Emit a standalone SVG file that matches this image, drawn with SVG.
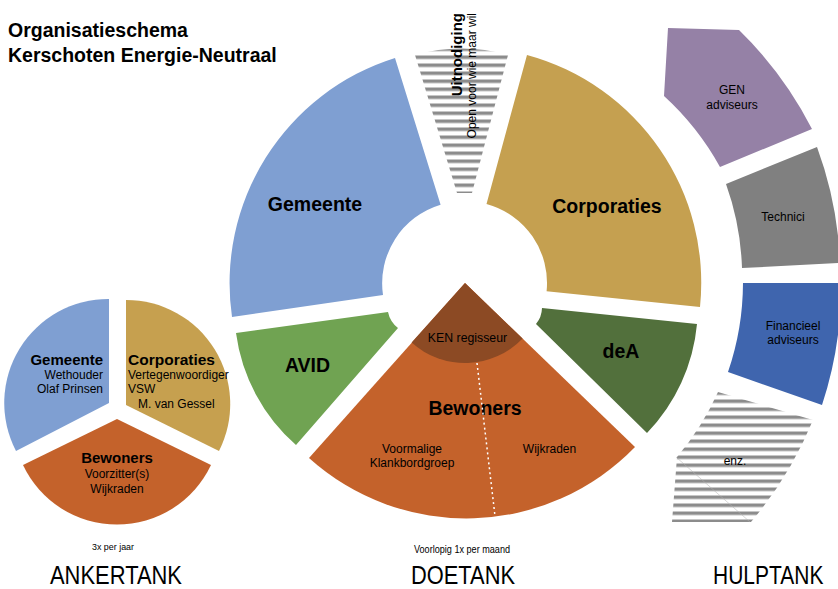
<svg xmlns="http://www.w3.org/2000/svg" width="838" height="589" viewBox="0 0 838 589">
<defs>
<style>
text{font-family:"Liberation Sans",Arial,Helvetica,sans-serif;fill:#000}
.b{font-weight:bold}
.big{font-size:19.5px;font-weight:bold;text-anchor:middle}
.s12{font-size:12px}
.m{text-anchor:middle}
.e{text-anchor:end}
.cond{font-size:25px}
</style>
<pattern id="stripes" patternUnits="userSpaceOnUse" x="0" y="-0.5" width="8" height="8">
<rect x="0" y="0" width="8" height="3.5" fill="#8c8c8c"/>
</pattern>
</defs>
<rect width="838" height="589" fill="#fff"/>

<g id="title">
<text x="8" y="37" class="b" font-size="19.5">Organisatieschema</text>
<text x="8" y="62" class="b" font-size="19.5">Kerschoten Energie-Neutraal</text>
</g>

<!-- ANKERTANK -->
<g id="anker-gemeente">
<path d="M109,403 L109,299 A104,104 0 0 0 16,451 Z" fill="#7F9FD2"/>
<text x="103" y="365" class="b e" font-size="15">Gemeente</text>
<text x="103" y="379" class="s12 e">Wethouder</text>
<text x="103" y="393" class="s12 e">Olaf Prinsen</text>
</g>
<g id="anker-corporaties">
<path d="M126,405 L126,300 A104,104 0 0 1 219,451 Z" fill="#C6A04F"/>
<text x="128" y="365" class="b" font-size="15.5">Corporaties</text>
<text x="128" y="379" class="s12">Vertegenwoordiger</text>
<text x="128" y="393" class="s12">VSW</text>
<text x="138" y="408" class="s12">M. van Gessel</text>
</g>
<g id="anker-bewoners">
<path d="M117,419 L211,465 A104,104 0 0 1 23,465 Z" fill="#C4622B"/>
<text x="117" y="463" class="b m" font-size="15">Bewoners</text>
<text x="117" y="478" class="s12 m">Voorzitter(s)</text>
<text x="117" y="493" class="s12 m">Wijkraden</text>
</g>

<!-- DOETANK -->
<g id="gemeente">
<path d="M232,317 A236,236 0 0 1 395,58 L440.6,204.7 A82,82 0 0 0 383,295 Z" fill="#7F9FD2"/>
<text x="315" y="211" class="big">Gemeente</text>
</g>
<g id="uitnodiging">
<path d="M457,193 L415,55 A174,174 0 0 1 508,55 L472,193 Z" fill="url(#stripes)"/>
<text transform="translate(462,13) rotate(-90)" class="b e" font-size="15">Uitnodiging</text>
<text transform="translate(476,13) rotate(-90)" class="e" font-size="12">Open voor wie maar wil</text>
</g>
<g id="corporaties">
<path d="M527,55 A236,236 0 0 1 700,307 L546.6,291.3 A82,82 0 0 0 486.5,203.9 Z" fill="#C5A050"/>
<text x="607" y="213" class="big">Corporaties</text>
</g>
<g id="avid">
<path d="M236,333 L388,312 A27,27 0 0 0 398,328 L296,445 A181,181 0 0 1 236,333 Z" fill="#70A352"/>
<text x="307.5" y="372" class="big">AVID</text>
</g>
<g id="dea">
<path d="M542,308 L697,324 A181,181 0 0 1 647,433 L536,324 A26,26 0 0 0 542,308 Z" fill="#52703C"/>
<text x="621" y="358" class="big">deA</text>
</g>
<g id="bewoners">
<path d="M465,283 L635,447 A235,235 0 0 1 309,458 Z" fill="#C4622B"/>
<text x="475" y="415" class="big">Bewoners</text>
<text x="412" y="453" class="s12 m">Voormalige</text>
<text x="412" y="467" class="s12 m">Klankbordgroep</text>
<text x="549.5" y="453" class="s12 m">Wijkraden</text>
</g>
<g id="ken-regisseur">
<path d="M465,283 L522.6,338.6 A80,80 0 0 1 411.6,342.6 Z" fill="#8C4A24"/>
<text x="467.5" y="342" class="m" font-size="12.3">KEN regisseur</text>
</g>

<!-- HULPTANK -->
<g id="gen-adviseurs">
<path d="M720,167 A277,277 0 0 0 664,96 L668,28 L739,30 A376,376 0 0 1 812,129 Z" fill="#9581A6"/>
<text x="732" y="94" class="s12 m">GEN</text>
<text x="732" y="109" class="s12 m">adviseurs</text>
</g>
<g id="technici">
<path d="M726,184 L817,147 A376,376 0 0 1 840,263 L742,268 A277,277 0 0 0 726,184 Z" fill="#808080"/>
<text x="783" y="221" class="s12 m">Technici</text>
</g>
<g id="financieel-adviseurs">
<path d="M743,283 L841,283 A376,376 0 0 1 822,405 L728,372 A277,277 0 0 0 743,283 Z" fill="#3F65AE"/>
<text x="793" y="330" class="s12 m">Financieel</text>
<text x="793" y="344" class="s12 m">adviseurs</text>
</g>
<g id="enz">
<path d="M718,392 L813,420 A376,376 0 0 1 751,522 L672,522 L677,457 A277,277 0 0 0 718,392 Z" fill="url(#stripes)"/>
<line x1="676" y1="457" x2="750" y2="522" stroke="#b0b0b0" stroke-width="0.5"/>
<text x="735" y="465" class="s12 m">enz.</text>
</g>

<g id="connectors">
<line x1="477" y1="363" x2="495" y2="516" stroke="#fff" stroke-width="1.5" stroke-dasharray="2 3"/>
</g>

<g id="labels">
<text x="113" y="550" class="m" font-size="9" textLength="42" lengthAdjust="spacingAndGlyphs">3x per jaar</text>
<text x="462" y="553" class="m" font-size="11" textLength="96" lengthAdjust="spacingAndGlyphs">Voorlopig 1x per maand</text>
<text x="50" y="584" class="cond" textLength="132" lengthAdjust="spacingAndGlyphs">ANKERTANK</text>
<text x="411" y="584" class="cond" textLength="104" lengthAdjust="spacingAndGlyphs">DOETANK</text>
<text transform="translate(713,584) scale(0.84,1)" class="cond">HULPTANK</text>
</g>
</svg>
